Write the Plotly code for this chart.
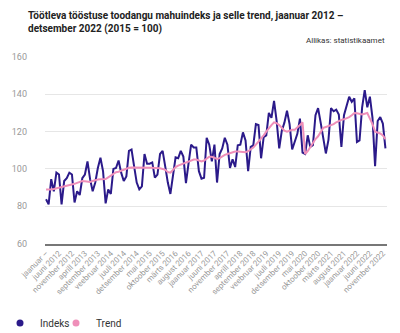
import plotly.graph_objects as go

title = "Töötleva tööstuse toodangu mahuindeks ja selle trend, jaanuar 2012 –<br>detsember 2022 (2015 = 100)"
source = "Allikas: statistikaamet"

indeks = [
    83.7, 81, 94.5, 88, 98, 97, 81, 93.5, 95, 98, 97, 82,
    88, 86, 95, 97, 104, 94.5, 88, 92.7, 100.5, 106, 98.8, 81.5,
    89, 86.6, 100, 100.5, 104.5, 98, 93.5, 96, 109.7, 110.4, 101.4, 92.7,
    89, 90.6, 108, 102.8, 102.8, 103.5, 95.3, 97, 108, 109.7, 101.4, 92.7,
    86.6, 96, 106.2, 105.7, 109.7, 106.6, 92.4, 103, 113, 111.5, 111.5, 98.8,
    94.8, 95.3, 116.7, 113, 104, 113, 92.7, 108, 111, 116.7, 113, 100.5,
    105.2, 101, 112.7, 113, 119.6, 115.3, 98.8, 111.8, 112.7, 124, 123.6, 105.7,
    117, 118, 130, 127.4, 136.5, 125.7, 111, 120.5, 124.8, 131.2, 124, 110.4,
    114.4, 118.8, 127, 108.7, 108, 118, 111.8, 112.7, 128.8, 132.6, 124.8, 117,
    108.3, 115.6, 132.6, 130.9, 131.8, 129.2, 111.8, 128.8, 134.4, 138.7, 136, 137.8,
    114.4, 115.3, 133, 142.2, 133, 138.7, 127.4, 101.4, 125.7, 127.8, 124.3, 111,
]

trend = [
    89, 88.8, 89, 89.2, 89.5, 89.8, 90.2, 90.5, 90.8, 91.3, 91.6, 92,
    92.5, 93, 93.5, 93.4, 93.2, 93, 93.5, 94, 94.3, 94.5, 94.5, 94.6,
    95.5, 96.5, 97.5, 98.2, 98.5, 99, 99.8, 100.3, 100.6, 100.8, 100.8, 101,
    101, 101, 101, 101, 100.8, 100.6, 100.5, 100.5, 100.3, 100, 99.5, 98.3,
    98, 99.5, 101, 101.8, 102.3, 103, 103.5, 104, 104.5, 105, 105, 104.5,
    104, 104.5, 105.5, 106.5, 106.5, 106, 105.3, 105.8, 106.7, 107.5, 108, 108.5,
    109, 109.3, 109.3, 109.2, 109, 109, 109.5, 110.5, 111.5, 113, 114.5, 116,
    118, 120, 122, 123.5, 125, 124.5, 123.5, 122, 120.5, 120, 120.5, 121,
    121, 122, 123.5, 125, 108, 109.5, 111.8, 114, 116, 117.5, 119.5, 122,
    122.5, 123, 123.5, 124, 125, 125.8, 126.3, 126.6, 127, 127.8, 128.8, 130,
    129.8, 129.5, 129.2, 129.6, 130, 127, 124, 120, 119.6, 119, 118, 116,
]

tick_labels = [
    "jaanuar –", "juuni 2012", "november 2012", "aprill 2013", "september 2013",
    "veebruar 2014", "juuli 2014", "detsember 2014", "mai 2015", "oktoober 2015",
    "märts 2016", "august 2016", "jaanuar 2017", "juuni 2017", "november 2017",
    "aprill 2018", "september 2018", "veebruar 2019", "juuli 2019", "detsember 2019",
    "mai 2020", "oktoober 2020", "märts 2021", "august 2021", "jaanuar 2022",
    "juuni 2022", "november 2022",
]
tick_step = 5

series_names = ["Indeks", "Trend"]
colors = ["#2b1a8a", "#ef8fb9"]

months = list(range(len(indeks)))

fig = go.Figure()
fig.add_trace(go.Scatter(x=months, y=indeks, mode="lines", name=series_names[0],
                         line=dict(color=colors[0], width=2), showlegend=False))
fig.add_trace(go.Scatter(x=months, y=trend, mode="lines", name=series_names[1],
                         line=dict(color=colors[1], width=2), showlegend=False))
legend_ids = ["legend", "legend2"]
for name, c, lg in zip(series_names, colors, legend_ids):
    fig.add_trace(go.Scatter(x=[None], y=[None], mode="markers", name=name, legend=lg,
                             marker=dict(color=c, size=7, symbol="circle")))

legend_style = dict(orientation="h", xanchor="left", xref="container",
                    y=0.03, yref="container", yanchor="middle",
                    font=dict(size=10, color="#333"), itemwidth=30,
                    bgcolor="rgba(0,0,0,0)")

fig.update_layout(
    width=400, height=333,
    margin=dict(l=30, r=13, t=57, b=84),
    paper_bgcolor="white", plot_bgcolor="white",
    font=dict(family="Roboto", color="#333"),
    showlegend=True,
    legend=dict(x=0.0, **legend_style),
    legend2=dict(x=0.14, **legend_style),
    annotations=[
        dict(text="<b>" + title + "</b>", xref="paper", yref="paper", x=-0.056, y=1.265,
             xanchor="left", yanchor="top", align="left", showarrow=False,
             font=dict(size=10, color="#222")),
        dict(text=source, xref="paper", yref="paper", x=1.0, y=1.09,
             xanchor="right", yanchor="middle", showarrow=False,
             font=dict(size=8, color="#333")),
    ],
)
fig.update_xaxes(range=[-0.4, 131.6], tickvals=months[::tick_step], ticktext=tick_labels,
                 tickangle=-45, tickfont=dict(size=8, color="#999"), showgrid=False,
                 showline=True, linecolor="#777", linewidth=2, ticks="", zeroline=False)
fig.update_yaxes(range=[60, 160], dtick=20, showgrid=True, gridcolor="#e6e6e6",
                 tickfont=dict(size=9, color="#999"), zeroline=False,
                 ticklabelstandoff=17)

fig.write_html("out.html")
